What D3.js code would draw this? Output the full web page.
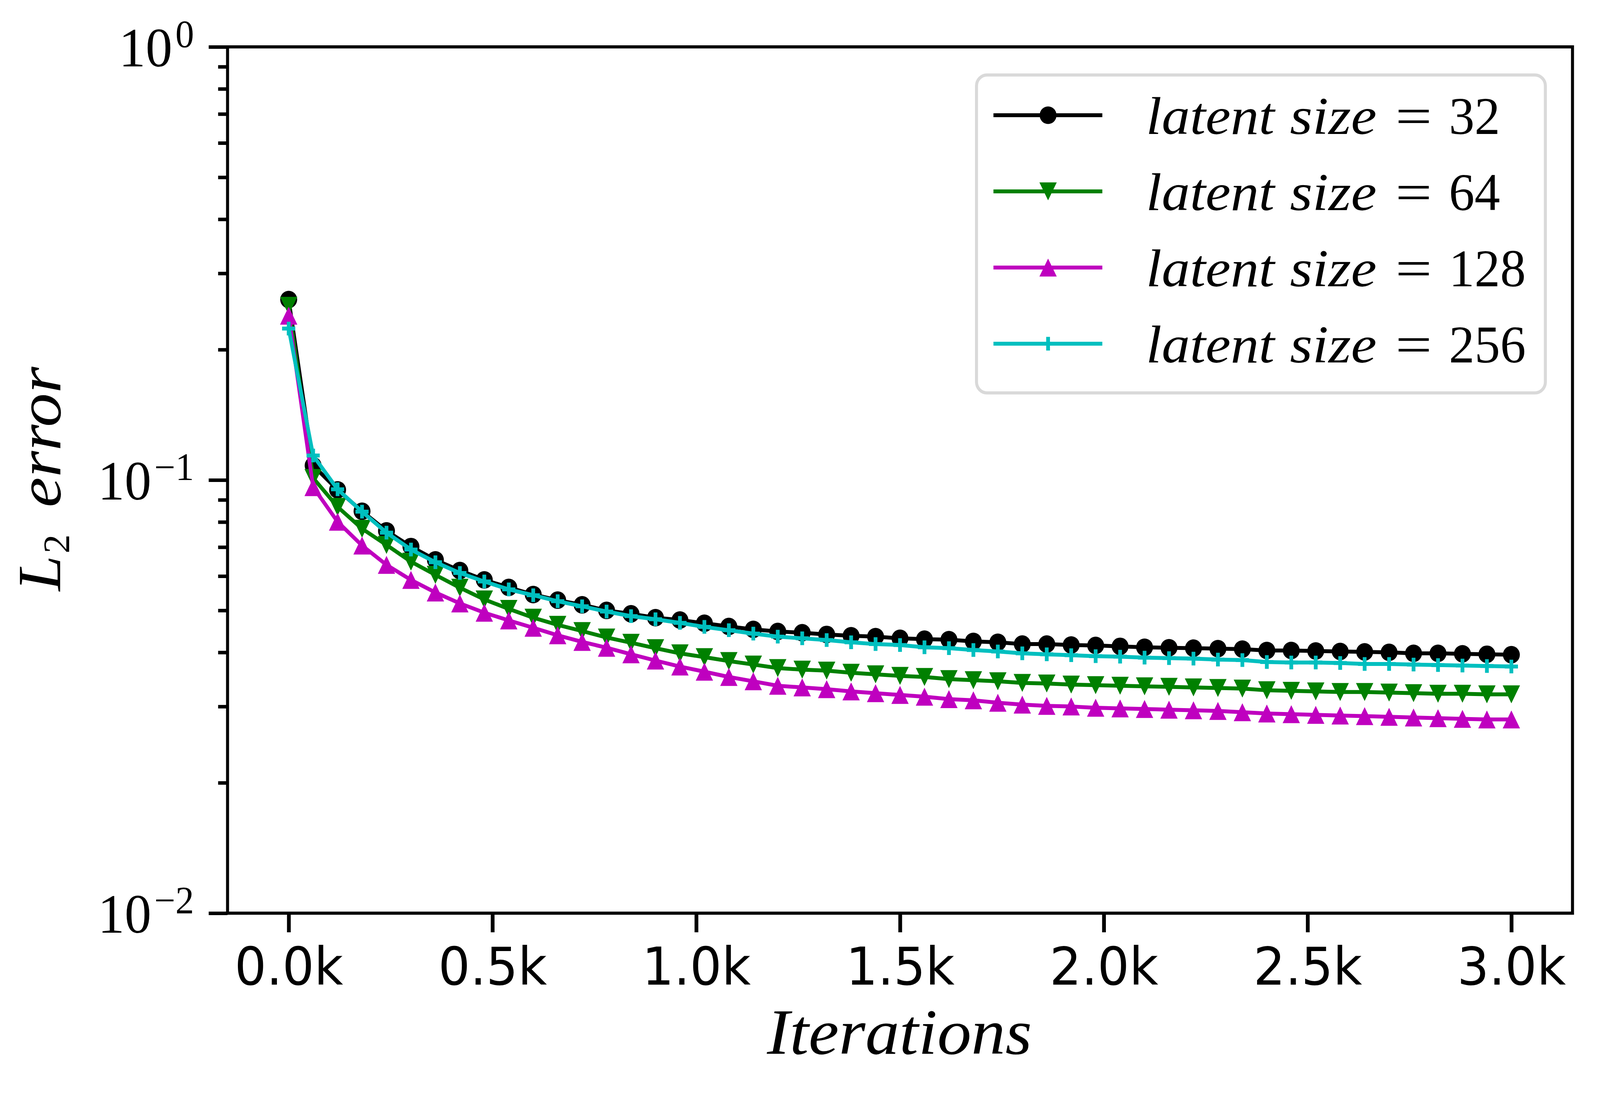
<!DOCTYPE html>
<html>
<head>
<meta charset="utf-8">
<script src="https://cdn.jsdelivr.net/npm/d3@7"></script>
<style>
  html, body { margin: 0; padding: 0; background: #fff; overflow: hidden; }
  svg { display: block; width: 100vw; height: 100vh; }
</style>
</head>
<body>
<svg id="chart"></svg>
<script>
// iteration numbers on the x axis
const iterations = [0, 60, 120, 180, 240, 300, 360, 420, 480, 540, 600, 660, 720, 780, 840, 900, 960,
  1020, 1080, 1140, 1200, 1260, 1320, 1380, 1440, 1500, 1560, 1620, 1680, 1740, 1800, 1860, 1920, 1980,
  2040, 2100, 2160, 2220, 2280, 2340, 2400, 2460, 2520, 2580, 2640, 2700, 2760, 2820, 2880, 2940, 3000];

const latentSizes = ['32', '64', '128', '256'];

// L2 error
const err32 = [0.261, 0.108, 0.0949, 0.0847, 0.0763, 0.0702, 0.0654, 0.0618, 0.0588, 0.0565, 0.0544,
  0.0528, 0.0515, 0.0500, 0.0491, 0.0481, 0.0475, 0.0467, 0.0459, 0.0452, 0.0447, 0.0444, 0.0440, 0.0437,
  0.0435, 0.0431, 0.0429, 0.0428, 0.0424, 0.0422, 0.0418, 0.0418, 0.0416, 0.0415, 0.0413, 0.0411, 0.0410,
  0.0409, 0.0408, 0.0407, 0.0404, 0.0404, 0.0403, 0.0402, 0.0401, 0.0400, 0.0398, 0.0398, 0.0397, 0.0396, 0.0395];
const err64 = [0.2525, 0.1011, 0.0867, 0.0772, 0.0708, 0.0648, 0.0604, 0.0564, 0.0530, 0.0504, 0.0481,
  0.0463, 0.0448, 0.0433, 0.0421, 0.0409, 0.0398, 0.0390, 0.0382, 0.0375, 0.0368, 0.0365, 0.0363, 0.0359,
  0.0356, 0.0353, 0.0351, 0.0347, 0.0345, 0.0343, 0.0340, 0.0339, 0.0337, 0.0336, 0.0335, 0.0334, 0.0333,
  0.0332, 0.0331, 0.0330, 0.0327, 0.0326, 0.0325, 0.0324, 0.0324, 0.0323, 0.0322, 0.0321, 0.0321, 0.0320, 0.0320];
const err128 = [0.2396, 0.0963, 0.0801, 0.0706, 0.0637, 0.0588, 0.0550, 0.0519, 0.0494, 0.0474, 0.0456,
  0.0438, 0.0423, 0.0410, 0.0396, 0.0383, 0.0371, 0.0361, 0.0351, 0.0343, 0.0335, 0.0332, 0.0329, 0.0325,
  0.0322, 0.0319, 0.0316, 0.0312, 0.0310, 0.0306, 0.0303, 0.0301, 0.0300, 0.0298, 0.0297, 0.0296, 0.0295,
  0.0294, 0.0293, 0.0291, 0.0289, 0.0288, 0.0287, 0.0286, 0.0285, 0.0284, 0.0283, 0.0282, 0.0281, 0.0280, 0.0280];
const err256 = [0.2237, 0.1139, 0.0952, 0.0845, 0.0756, 0.0691, 0.0646, 0.0610, 0.0583, 0.0559, 0.0542,
  0.0525, 0.0511, 0.0497, 0.0485, 0.0477, 0.0468, 0.0458, 0.0450, 0.0442, 0.0435, 0.0431, 0.0427, 0.0422,
  0.0418, 0.0416, 0.0411, 0.0409, 0.0405, 0.0402, 0.0398, 0.0396, 0.0394, 0.0392, 0.0391, 0.0389, 0.0388,
  0.0387, 0.0385, 0.0384, 0.0380, 0.0379, 0.0379, 0.0378, 0.0376, 0.0376, 0.0375, 0.0374, 0.0373, 0.0372, 0.0371];

const xTicks = [0, 500, 1000, 1500, 2000, 2500, 3000];
const yMajor = [1, 0.1, 0.01];
const yMajorExp = ['0', '\u22121', '\u22122'];
const yMinor = [0.02, 0.03, 0.04, 0.05, 0.06, 0.07, 0.08, 0.09, 0.2, 0.3, 0.4, 0.5, 0.6, 0.7, 0.8, 0.9];

const W = 4247, H = 2801;
const plot = { left: 604, right: 4174, top: 120, bottom: 2338 };
const serif = '"Liberation Serif", "DejaVu Serif", serif';

// drawn in a fixed 4247x2801 coordinate system, stretched to fill the window
const svg = d3.select('#chart')
  .attr('viewBox', `0 0 ${W} ${H}`)
  .attr('preserveAspectRatio', 'none');
svg.append('rect').attr('width', W).attr('height', H).attr('fill', '#fff');

const x = d3.scaleLinear().domain([-150, 3150]).range([plot.left, plot.right]);
const y = d3.scaleLog().domain([0.01, 1]).range([plot.bottom, plot.top]);

const series = [
  { name: latentSizes[0], values: err32, color: '#000000', marker: 'circle' },
  { name: latentSizes[1], values: err64, color: '#008000', marker: 'tridown' },
  { name: latentSizes[2], values: err128, color: '#bf00bf', marker: 'triup' },
  { name: latentSizes[3], values: err256, color: '#00bfbf', marker: 'plus' }
];

function drawMarker(g, type, cx, cy, color) {
  const h = 23;
  if (type === 'circle') {
    g.append('circle').attr('cx', cx).attr('cy', cy).attr('r', 22.5).attr('fill', color);
  } else if (type === 'triup') {
    g.append('path').attr('d', `M${cx},${cy - h}L${cx + h},${cy + h}L${cx - h},${cy + h}Z`).attr('fill', color);
  } else if (type === 'tridown') {
    g.append('path').attr('d', `M${cx},${cy + h}L${cx + h},${cy - h}L${cx - h},${cy - h}Z`).attr('fill', color);
  } else {
    const s = 17.5;
    g.append('path').attr('d', `M${cx - s},${cy}H${cx + s}M${cx},${cy - s}V${cy + s}`)
      .attr('stroke', color).attr('stroke-width', 10).attr('fill', 'none');
  }
}

// lines + markers
const line = d3.line().x(d => x(d[0])).y(d => y(d[1]));
series.forEach(s => {
  const pts = iterations.map((it, i) => [it, s.values[i]]);
  const g = svg.append('g');
  g.append('path').attr('d', line(pts)).attr('fill', 'none')
    .attr('stroke', s.color).attr('stroke-width', 10).attr('stroke-linejoin', 'round');
  pts.forEach(p => drawMarker(g, s.marker, x(p[0]), y(p[1]), s.color));
});

// x axis
const xAxis = svg.append('g')
  .attr('transform', `translate(0, ${plot.bottom})`)
  .call(d3.axisBottom(x).tickValues(xTicks).tickSize(49).tickPadding(40)
    .tickFormat(d => (d / 1000).toFixed(1) + 'k'));
xAxis.select('.domain').remove();
xAxis.selectAll('line').attr('stroke', '#000').attr('stroke-width', 10);
xAxis.selectAll('text').attr('font-family', '"DejaVu Sans", sans-serif')
  .attr('font-size', 133).attr('fill', '#000');

// y axis: minor then major ticks
const yMinorAxis = svg.append('g')
  .attr('transform', `translate(${plot.left}, 0)`)
  .call(d3.axisLeft(y).tickValues(yMinor).tickSize(25).tickFormat(''));
yMinorAxis.select('.domain').remove();
yMinorAxis.selectAll('line').attr('stroke', '#000').attr('stroke-width', 9);

const yMajorAxis = svg.append('g')
  .attr('transform', `translate(${plot.left}, 0)`)
  .call(d3.axisLeft(y).tickValues(yMajor).tickSize(50).tickFormat(''));
yMajorAxis.select('.domain').remove();
yMajorAxis.selectAll('line').attr('stroke', '#000').attr('stroke-width', 9);

// y tick labels as 10^n
yMajor.forEach((v, i) => {
  const ty = y(v);
  const sup = svg.append('text').attr('x', 515).attr('y', ty)
    .attr('text-anchor', 'end').attr('font-family', serif).attr('font-size', 99)
    .attr('fill', '#000').text(yMajorExp[i]);
  const bb = sup.node().getBBox();
  svg.append('text').attr('x', bb.x - 8).attr('y', ty + 50)
    .attr('text-anchor', 'end').attr('font-family', serif).attr('font-size', 142)
    .attr('fill', '#000').text('10');
});

// frame
svg.append('rect')
  .attr('x', plot.left).attr('y', plot.top)
  .attr('width', plot.right - plot.left).attr('height', plot.bottom - plot.top)
  .attr('fill', 'none').attr('stroke', '#000').attr('stroke-width', 8);

// axis labels
svg.append('text').attr('x', 2036).attr('y', 2698)
  .attr('font-family', serif).attr('font-style', 'italic').attr('font-size', 165)
  .attr('textLength', 703).attr('lengthAdjust', 'spacingAndGlyphs')
  .attr('fill', '#000').text('Iterations');

const yl = svg.append('g').attr('transform', 'translate(160, 1513) rotate(-90)');
yl.append('text').attr('x', 0).attr('y', 0)
  .attr('font-family', serif).attr('font-style', 'italic').attr('font-size', 163)
  .attr('fill', '#000').text('L');
yl.append('text').attr('x', 96).attr('y', 23)
  .attr('font-family', serif).attr('font-size', 98).attr('fill', '#000').text('2');
yl.append('text').attr('x', 214).attr('y', 0)
  .attr('font-family', serif).attr('font-style', 'italic').attr('font-size', 163)
  .attr('textLength', 360).attr('lengthAdjust', 'spacingAndGlyphs')
  .attr('fill', '#000').text('error');

// legend
const legend = svg.append('g');
legend.append('rect')
  .attr('x', 2592).attr('y', 192).attr('width', 1510).attr('height', 814)
  .attr('rx', 28).attr('ry', 28)
  .attr('fill', '#fff').attr('fill-opacity', 0.8)
  .attr('stroke', '#d9d9d9').attr('stroke-width', 8);

const rowY = [295, 490, 685, 880];
series.forEach((s, i) => {
  const ry = rowY[i];
  legend.append('line').attr('x1', 2637).attr('x2', 2926).attr('y1', ry).attr('y2', ry)
    .attr('stroke', s.color).attr('stroke-width', 10);
  drawMarker(legend, s.marker, 2782, ry, s.color);
  const base = ry + 48;
  legend.append('text').attr('x', 3042).attr('y', base)
    .attr('font-family', serif).attr('font-style', 'italic').attr('font-size', 136)
    .attr('textLength', 341).attr('lengthAdjust', 'spacingAndGlyphs')
    .attr('fill', '#000').text('latent');
  legend.append('text').attr('x', 3424).attr('y', base)
    .attr('font-family', serif).attr('font-style', 'italic').attr('font-size', 136)
    .attr('textLength', 230).attr('lengthAdjust', 'spacingAndGlyphs')
    .attr('fill', '#000').text('size');
  legend.append('text').attr('x', 3704).attr('y', base)
    .attr('font-family', serif).attr('font-size', 136)
    .attr('textLength', 97).attr('lengthAdjust', 'spacingAndGlyphs')
    .attr('fill', '#000').text('=');
  legend.append('text').attr('x', 3846).attr('y', base)
    .attr('font-family', serif).attr('font-size', 136)
    .attr('fill', '#000').text(s.name);
});
</script>
</body>
</html>
